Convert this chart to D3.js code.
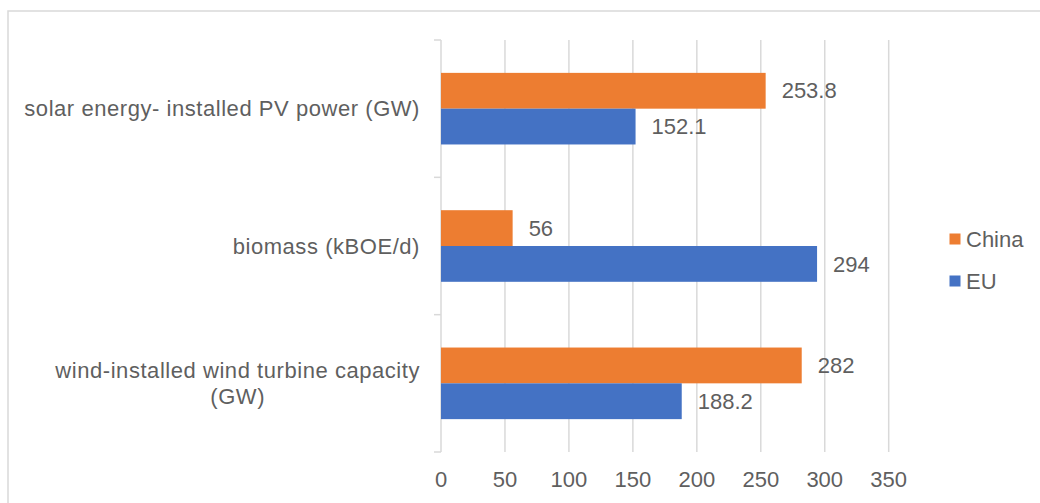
<!DOCTYPE html>
<html>
<head>
<meta charset="utf-8">
<script src="https://cdn.jsdelivr.net/npm/d3@7"></script>
<style>
  html, body { margin: 0; padding: 0; background: #fff; }
  svg { display: block; }
  text { font-family: "Liberation Sans", Arial, sans-serif; fill: #5f5f5f; }
</style>
</head>
<body>
<svg id="chart" width="1040" height="503"></svg>
<script>
// Categories, top to bottom
const categories = [
  "solar energy- installed PV power (GW)",
  "biomass (kBOE/d)",
  "wind-installed wind turbine capacity (GW)"
];
// Label lines for categories that wrap
const categoryLines = [
  ["solar energy- installed PV power (GW)"],
  ["biomass (kBOE/d)"],
  ["wind-installed wind turbine capacity", "(GW)"]
];
const seriesNames = ["China", "EU"];
const chinaValues = [253.8, 56, 282];
const euValues = [152.1, 294, 188.2];
const xTicks = [0, 50, 100, 150, 200, 250, 300, 350];
const colors = { China: "#ED7D31", EU: "#4472C4" };

const svg = d3.select("#chart");
const fontSize = 22;

// Outer frame (only top/left edges fall inside the view)
svg.append("rect")
  .attr("x", 8).attr("y", 11)
  .attr("width", 1060).attr("height", 520)
  .attr("fill", "none")
  .attr("stroke", "#d9d9d9")
  .attr("stroke-width", 1.5);

const plot = { left: 441, right: 888.7, top: 40, bottom: 452 };

const x = d3.scaleLinear().domain([0, 350]).range([plot.left, plot.right]);
const y = d3.scaleBand().domain(categories).range([plot.top, plot.bottom]).padding(0);
const ySub = d3.scaleBand().domain(seriesNames).range([0, y.bandwidth()])
  .paddingInner(0).paddingOuter(0.918);

// Vertical gridlines
svg.append("g").selectAll("line")
  .data(xTicks.slice(1))
  .join("line")
  .attr("x1", d => x(d)).attr("x2", d => x(d))
  .attr("y1", plot.top).attr("y2", plot.bottom)
  .attr("stroke", "#d9d9d9")
  .attr("stroke-width", 1.5);

// Category axis line with tick marks at band boundaries
const axisG = svg.append("g");
axisG.append("line")
  .attr("x1", x(0)).attr("x2", x(0))
  .attr("y1", plot.top).attr("y2", plot.bottom)
  .attr("stroke", "#d9d9d9").attr("stroke-width", 1.5);
const boundaries = categories.map(c => y(c)).concat([plot.bottom]);
axisG.selectAll("line.tick")
  .data(boundaries)
  .join("line")
  .attr("class", "tick")
  .attr("x1", x(0) - 7).attr("x2", x(0))
  .attr("y1", d => d).attr("y2", d => d)
  .attr("stroke", "#d9d9d9").attr("stroke-width", 1.5);

// X tick labels
svg.append("g").selectAll("text")
  .data(xTicks)
  .join("text")
  .attr("x", d => x(d))
  .attr("y", 479).attr("dy", "0.35em")
  .attr("text-anchor", "middle")
  .attr("font-size", fontSize)
  .text(d => d);

// Category labels
const catG = svg.append("g").attr("letter-spacing", 0.55);
categories.forEach((c, i) => {
  const lines = categoryLines[i];
  const cy = y(c) + y.bandwidth() / 2;
  const lineH = 25.5;
  const startY = cy - (lines.length - 1) * lineH / 2;
  if (lines.length === 1) {
    catG.append("text")
      .attr("x", 420).attr("y", cy).attr("dy", "0.35em")
      .attr("text-anchor", "end").attr("font-size", fontSize)
      .text(lines[0]);
  } else {
    const first = catG.append("text")
      .attr("x", 420).attr("y", startY).attr("dy", "0.35em")
      .attr("text-anchor", "end").attr("font-size", fontSize)
      .text(lines[0]);
    const w = first.node().getComputedTextLength();
    const mid = 420 - w / 2;
    lines.slice(1).forEach((ln, j) => {
      catG.append("text")
        .attr("x", mid).attr("y", startY + (j + 1) * lineH).attr("dy", "0.35em")
        .attr("text-anchor", "middle").attr("font-size", fontSize)
        .text(ln);
    });
  }
});

// Bars and value labels
const rows = categories.flatMap((c, i) => [
  { cat: c, series: "China", value: chinaValues[i] },
  { cat: c, series: "EU", value: euValues[i] }
]);

svg.append("g").selectAll("rect")
  .data(rows)
  .join("rect")
  .attr("x", x(0))
  .attr("y", d => y(d.cat) + ySub(d.series))
  .attr("width", d => x(d.value) - x(0))
  .attr("height", ySub.bandwidth())
  .attr("fill", d => colors[d.series]);

svg.append("g").selectAll("text")
  .data(rows)
  .join("text")
  .attr("x", d => x(d.value) + 16)
  .attr("y", d => y(d.cat) + ySub(d.series) + ySub.bandwidth() / 2)
  .attr("dy", "0.35em")
  .attr("font-size", fontSize)
  .text(d => d.value);

// Legend
const legend = svg.append("g");
const legendY = [239, 281];
seriesNames.forEach((s, i) => {
  legend.append("rect")
    .attr("x", 949.5).attr("y", legendY[i] - 5.5)
    .attr("width", 11).attr("height", 11)
    .attr("fill", colors[s]);
  legend.append("text")
    .attr("x", 966).attr("y", legendY[i]).attr("dy", "0.35em")
    .attr("font-size", fontSize)
    .text(s);
});
</script>
</body>
</html>
